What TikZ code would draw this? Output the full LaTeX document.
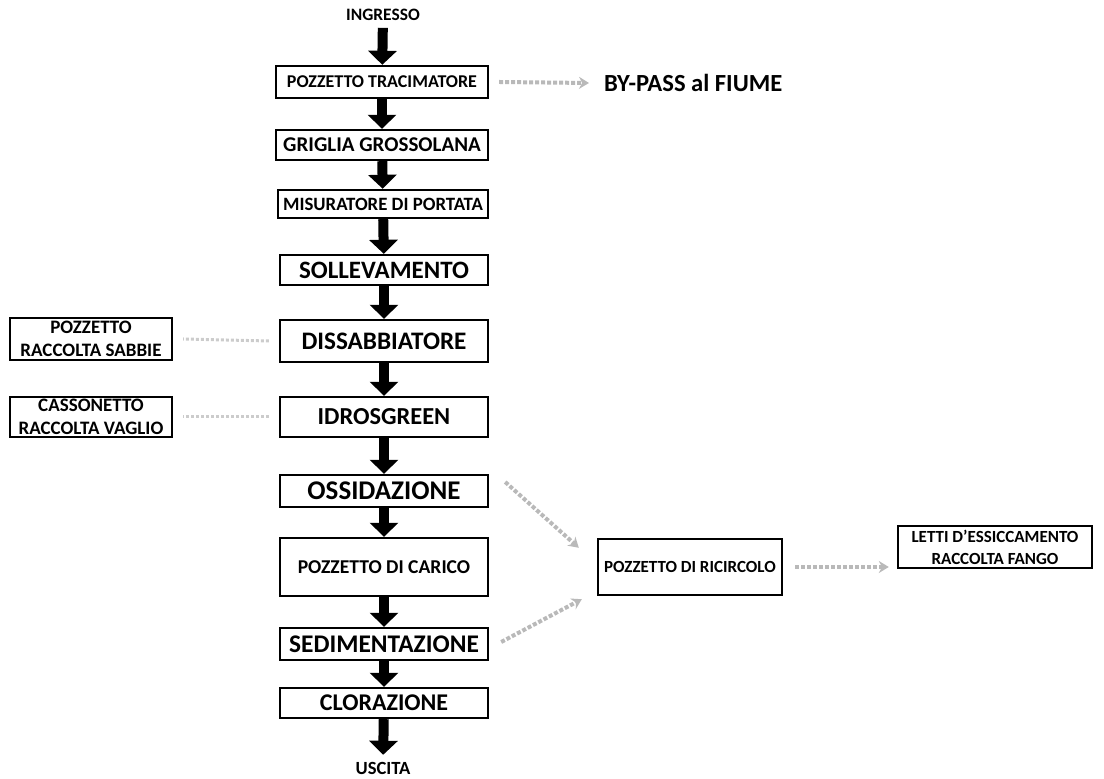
\documentclass[tikz,border=0pt]{standalone}
\usepackage{fontspec}
\setmainfont{Carlito}
\usetikzlibrary{arrows.meta}
\tikzset{
  box/.style={draw, line width=1.2pt, inner sep=0pt, align=center, font=\bfseries},
  flow/.style={line width=5pt, -{Triangle[width=14pt,length=7pt]}},
  side/.style={gray!55, line width=2pt, densely dotted, -{Stealth[length=5pt,width=6pt]}},
  faint/.style={gray!40, line width=1.5pt, densely dotted}
}
\begin{document}
\begin{tikzpicture}[x=0.5pt, y=-0.5pt]
  \useasboundingbox (0,0) rectangle (1104,779);
  % main line
  \node[font=\bfseries\fontsize{8.7}{10}\selectfont] (ingresso) at (383,15) {INGRESSO};
  \node[box, minimum width=106pt, minimum height=16pt, font=\bfseries\fontsize{9}{10}\selectfont] (tracim) at (382,82) {POZZETTO TRACIMATORE};
  \node[box, minimum width=106pt, minimum height=15pt, font=\bfseries\fontsize{10.5}{12}\selectfont] (griglia) at (382,145) {GRIGLIA GROSSOLANA};
  \node[box, minimum width=105pt, minimum height=14pt, font=\bfseries\fontsize{9.4}{11}\selectfont] (misur) at (383,204) {MISURATORE DI PORTATA};
  \node[box, minimum width=104pt, minimum height=15pt, font=\bfseries\fontsize{12.5}{14}\selectfont] (sollev) at (384,270) {SOLLEVAMENTO};
  \node[box, minimum width=104pt, minimum height=21pt, font=\bfseries\fontsize{12.6}{14}\selectfont] (dissab) at (384,341) {DISSABBIATORE};
  \node[box, minimum width=104pt, minimum height=20pt, font=\bfseries\fontsize{12.2}{14}\selectfont] (idros) at (384,417) {IDROSGREEN};
  \node[box, minimum width=104pt, minimum height=16pt, font=\bfseries\fontsize{13.5}{15}\selectfont] (ossid) at (384,491) {OSSIDAZIONE};
  \node[box, minimum width=104pt, minimum height=29pt, font=\bfseries\fontsize{9.8}{11}\selectfont] (carico) at (384,567) {POZZETTO DI CARICO};
  \node[box, minimum width=104pt, minimum height=16pt, font=\bfseries\fontsize{12.7}{14}\selectfont] (sedim) at (384,644) {SEDIMENTAZIONE};
  \node[box, minimum width=104pt, minimum height=15pt, font=\bfseries\fontsize{12}{14}\selectfont] (cloraz) at (384,703) {CLORAZIONE};
  \node[font=\bfseries\fontsize{9.3}{11}\selectfont] (uscita) at (383,768) {USCITA};
  % side boxes
  \node[box, minimum width=81pt, minimum height=21pt, font=\bfseries\fontsize{9.5}{11.5}\selectfont] (sabbie) at (91,339) {POZZETTO\\RACCOLTA SABBIE};
  \node[box, minimum width=81pt, minimum height=20pt, font=\bfseries\fontsize{9.5}{11.5}\selectfont] (vaglio) at (91,417) {CASSONETTO\\RACCOLTA VAGLIO};
  \node[box, minimum width=92pt, minimum height=28pt, font=\bfseries\fontsize{8.5}{10}\selectfont] (ricirc) at (690,567) {POZZETTO DI RICIRCOLO};
  \node[box, minimum width=97pt, minimum height=21pt, font=\bfseries\fontsize{8.5}{11}\selectfont] (letti) at (995,547) {LETTI D'ESSICCAMENTO\\RACCOLTA FANGO};
  \node[font=\bfseries\fontsize{12.3}{14}\selectfont, anchor=west] (bypass) at (597,83) {BY-PASS al FIUME};
  % flow arrows
  \draw[flow] (ingresso) -- (tracim);
  \draw[flow] (tracim) -- (griglia);
  \draw[flow] (griglia) -- (misur);
  \draw[flow] (misur) -- (sollev);
  \draw[flow] (sollev) -- (dissab);
  \draw[flow] (dissab) -- (idros);
  \draw[flow] (idros) -- (ossid);
  \draw[flow] (ossid) -- (carico);
  \draw[flow] (carico) -- (sedim);
  \draw[flow] (sedim) -- (cloraz);
  \draw[flow] (cloraz) -- (uscita);
  % grey links
  \draw[side] ([xshift=5pt]tracim.east) -- ([xshift=-4pt]bypass.west);
  \draw[faint] ([xshift=-5pt]dissab.west) -- ([xshift=5pt]sabbie.east);
  \draw[faint] ([xshift=-5pt]idros.west) -- ([xshift=5pt]vaglio.east);
  \draw[side] ([shift={(8pt,4.5pt)}]ossid.east) -- ([shift={(-9pt,-5pt)}]ricirc.north west);
  \draw[side] ([shift={(6pt,1pt)}]sedim.east) -- ([shift={(-7.5pt,-1.5pt)}]ricirc.south west);
  \draw[side] ([xshift=6pt]ricirc.east) -- ([xshift=-4pt]letti.west |- ricirc.east);
\end{tikzpicture}
\end{document}
